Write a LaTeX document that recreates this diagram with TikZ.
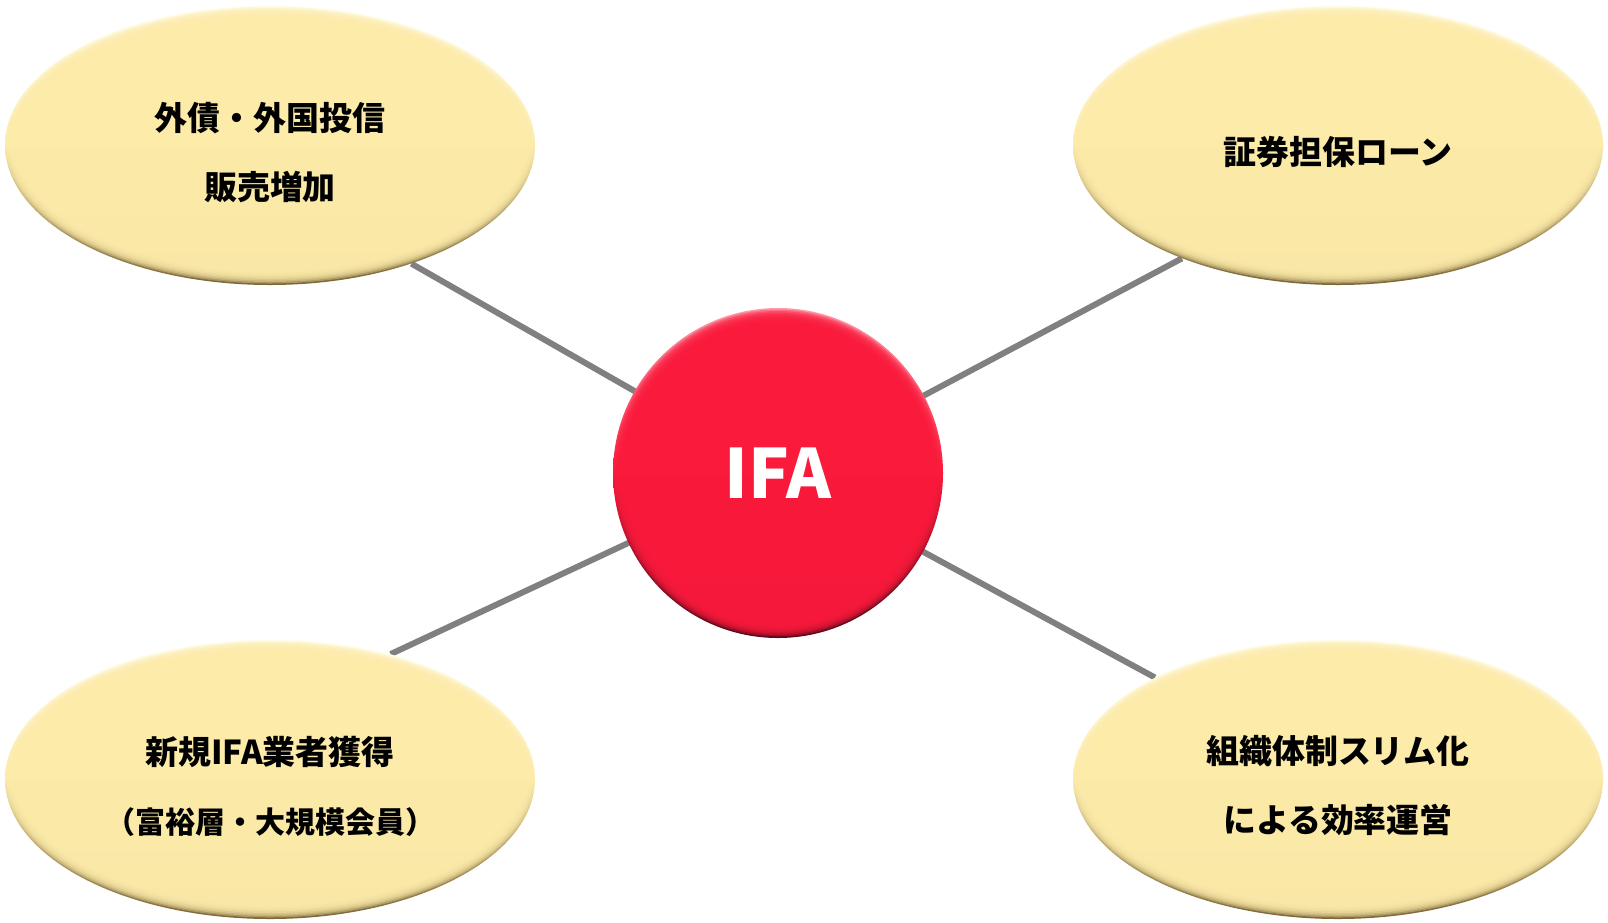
\documentclass[tikz,border=0pt]{standalone}
\usepackage{fontspec}
\newfontfamily\jp{Noto Sans CJK JP}
\usetikzlibrary{shapes.geometric,backgrounds}
\definecolor{ebase}{HTML}{FDEBAA}
\definecolor{elight}{HTML}{FFFFF4}
\definecolor{edark}{HTML}{7A6636}
\definecolor{cbase}{HTML}{FA1A3C}
\definecolor{clight}{HTML}{FF9AAA}
\definecolor{cdark}{HTML}{5E0818}
\definecolor{conn}{HTML}{808080}
\begin{document}
\begin{tikzpicture}[x=0.75pt,y=-0.75pt,
  bubble/.style={ellipse, minimum width=397.5pt, minimum height=210pt, inner sep=0pt,
    path picture={
      \shade[shading angle=35, top color=elight, bottom color=edark, middle color=ebase]
        (path picture bounding box.south west) rectangle (path picture bounding box.north east);
      \foreach \d in {1.5,3,...,13.5}
        \fill[ebase, opacity=0.35] (path picture bounding box.center)
          ellipse [x radius=198.75pt-\d*0.75pt, y radius=105pt-\d*0.75pt];
    }},
  bubbletext/.style={align=center, text=black, inner sep=0pt,
    font=\jp\bfseries\fontsize{24.7}{51.75}\selectfont},
  hub/.style={circle, minimum size=247.5pt, inner sep=0pt, text=white,
    font=\jp\bfseries\fontsize{51}{56}\selectfont,
    path picture={
      \shade[shading angle=35, top color=clight, bottom color=cdark, middle color=cbase]
        (path picture bounding box.south west) rectangle (path picture bounding box.north east);
      \foreach \d in {1.5,3,...,13.5}
        \fill[cbase, opacity=0.35] (path picture bounding box.center)
          circle [radius=123.75pt-\d*0.75pt];
    }},
  connline/.style={draw=conn, line width=4.5pt}
]
\useasboundingbox (0,0) rectangle (1608,922);

\node[hub] (hub) at (778,473) {IFA};
\node[bubble] (tl) at (270,145) {};
\node[bubble] (tr) at (1338,145) {};
\node[bubble] (bl) at (270,779) {};
\node[bubble] (br) at (1338,779) {};

\node[bubbletext] (tlt) at (270,153) {外債・外国投信\\販売増加};
\node[bubbletext] (trt) at (1338,152) {証券担保ローン};
\node[bubbletext] (blt) at (270,786) {新規IFA業者獲得\\{\fontsize{22.5}{51.75}\selectfont （富裕層・大規模会員）}};
\node[bubbletext] (brt) at (1338,786) {組織体制スリム化\\による効率運営};

\begin{scope}[on background layer]
  \draw[connline] (hub.center) -- (tl.-40.6);
  \draw[connline] (hub.center) -- (tr.-144.3);
  \draw[connline] (hub.center) -- (bl.46.6);
  \draw[connline] (hub.center) -- (br.151.9);
\end{scope}
\end{tikzpicture}
\end{document}
